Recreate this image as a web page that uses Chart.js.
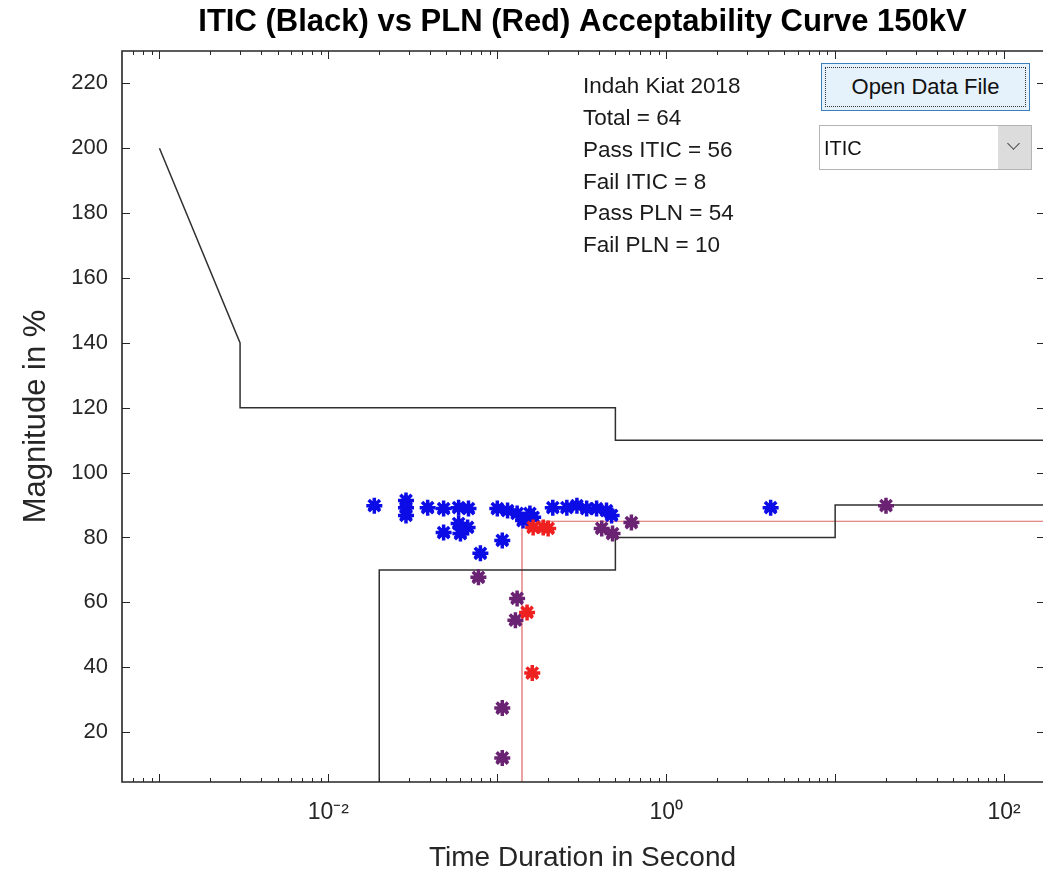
<!DOCTYPE html>
<html>
<head>
<meta charset="utf-8">
<script src="https://cdn.jsdelivr.net/npm/chart.js@4.4.1/dist/chart.umd.min.js"></script>
<style>
  html, body { margin: 0; padding: 0; background: #fff; }
  #wrap { position: relative; width: 1043px; height: 879px; overflow: hidden; }
  #chart { position: absolute; left: 0; top: 0; }
  .btn {
    position: absolute; left: 821px; top: 63px; width: 209px; height: 48px;
    box-sizing: border-box; border: 1px solid #3a80bd; background: #e5f1fb;
    font: 22px "Liberation Sans", Arial, sans-serif; color: #111;
    display: flex; align-items: center; justify-content: center;
  }
  .btn .focus { position: absolute; left: 3px; top: 3px; right: 3px; bottom: 3px; border: 1px dotted #333; }
  .sel {
    position: absolute; left: 819px; top: 125px; width: 213px; height: 45px;
    box-sizing: border-box; border: 1px solid #b4b4b4; background: #fff;
    font: 20px "Liberation Sans", Arial, sans-serif; color: #111;
  }
  .sel .txt { position: absolute; left: 4px; top: 11px; }
  .sel .arr { position: absolute; right: 0; top: 0; bottom: 0; width: 33px; background: #dcdcdc; }
  .sel .arr:after {
    content: ""; position: absolute; left: 11px; top: 13px; width: 8px; height: 8px;
    border-right: 1.5px solid #444; border-bottom: 1.5px solid #444; transform: rotate(45deg);
  }
</style>
</head>
<body>
<div id="wrap">
  <canvas id="chart" width="1043" height="879"></canvas>
  <div class="btn"><div class="focus"></div>Open Data File</div>
  <div class="sel"><span class="txt">ITIC</span><span class="arr"></span></div>
</div>
<script>
// ITIC curve (black): upper and lower envelopes
const iticUpperT = [0.001, 0.003, 0.003, 0.5, 0.5, 1000];
const iticUpperM = [200, 140, 120, 120, 110, 110];
const iticLowerT = [0.02, 0.02, 0.5, 0.5, 10, 10, 1000];
const iticLowerM = [0, 70, 70, 80, 80, 90, 90];

// PLN curve (red)
const plnT = [0.14, 0.14, 1000];
const plnM = [0, 85, 85];

// events: pass both (blue)
const blueT = [0.0187, 0.0288, 0.0288, 0.0288, 0.0387, 0.0481, 0.059, 0.0675, 0.059, 0.0667,
  0.0481, 0.0605, 0.1, 0.115, 0.131, 0.156, 0.163, 0.142, 0.107, 0.0794,
  0.213, 0.258, 0.296, 0.338, 0.387, 0.443, 0.475, 4.15];
const blueM = [89.8, 91.4, 89.2, 86.8, 89.2, 88.9, 89.2, 88.9, 84.3, 83.1,
  81.5, 81.2, 88.9, 88.3, 87.4, 87.4, 86.2, 85.2, 79.1, 75.1,
  89.2, 89.2, 89.8, 88.9, 88.9, 88.3, 86.8, 89.2];

// events: purple
const purpleT = [0.0773, 0.415, 0.481, 0.622, 0.131, 0.128, 0.107, 0.107, 20];
const purpleM = [67.7, 82.8, 81.2, 84.6, 61.2, 54.5, 27.4, 12.0, 89.8];

// events: red
const redT = [0.163, 0.187, 0.2, 0.15, 0.161];
const redM = [83.1, 83.1, 82.8, 56.9, 38.2];

const infoLines = ['Indah Kiat 2018', 'Total = 64', 'Pass ITIC = 56', 'Fail ITIC = 8', 'Pass PLN = 54', 'Fail PLN = 10'];

const xMin = 6.2e-4, xMax = 170;
const yMin = 4.6, yMax = 230;
const yTickVals = [20, 40, 60, 80, 100, 120, 140, 160, 180, 200, 220];
const xTickVals = [0.01, 1, 100];
const xTickText = { 0.01: '10\u207B\u00B2', 1: '10\u2070', 100: '10\u00B2' };

const FONT = '"Liberation Sans", Arial, sans-serif';
const AX = '#262626';

const pts = (t, m) => t.map((v, i) => ({ x: v, y: m[i] }));

const lineSet = (label, t, m, color, w) => ({
  type: 'line', label, data: pts(t, m), borderColor: color, borderWidth: w,
  pointRadius: 0, fill: false, tension: 0, order: 20
});
const starSet = (label, t, m, color, order) => ({
  type: 'scatter', label, data: pts(t, m), pointStyle: 'star', pointRadius: 8,
  borderWidth: 3.5, borderColor: color, backgroundColor: color, order
});
const triSet = (label, t, m, color, order) => ({
  type: 'scatter', label, data: pts(t, m), pointStyle: 'triangle', pointRadius: 7,
  borderWidth: 1, borderColor: color, backgroundColor: color, order
});

// box, inward ticks and info text like a MATLAB axes
// (right edge of the box is cropped off in the original figure)
const matlabAxes = {
  id: 'matlabAxes',
  afterDraw(chart) {
    const { ctx, chartArea: a, scales: { x, y } } = chart;
    ctx.save();
    ctx.strokeStyle = AX;
    ctx.lineWidth = 1;
    ctx.beginPath();
    for (const v of yTickVals) {
      const py = Math.round(y.getPixelForValue(v)) + 0.5;
      ctx.moveTo(a.left, py); ctx.lineTo(a.left + 8, py);
      ctx.moveTo(a.right, py); ctx.lineTo(a.right - 6, py);
    }
    for (let e = -4; e <= 2; e++) {
      for (let k = 1; k <= 9; k++) {
        const v = k * Math.pow(10, e);
        if (v < xMin || v > xMax) continue;
        const px = Math.round(x.getPixelForValue(v)) + 0.5;
        const len = k === 1 ? 8 : 4;
        ctx.moveTo(px, a.bottom); ctx.lineTo(px, a.bottom - len);
        ctx.moveTo(px, a.top); ctx.lineTo(px, a.top + len);
      }
    }
    ctx.stroke();
    ctx.lineWidth = 1.6;
    ctx.beginPath();
    ctx.moveTo(a.right, a.top);
    ctx.lineTo(a.left, a.top);
    ctx.lineTo(a.left, a.bottom);
    ctx.lineTo(a.right, a.bottom);
    ctx.stroke();

    ctx.fillStyle = '#1a1a1a';
    ctx.font = '22.5px ' + FONT;
    ctx.textBaseline = 'middle';
    ctx.textAlign = 'left';
    infoLines.forEach((s, i) => ctx.fillText(s, 583, 87 + i * 31.8));
    ctx.restore();
  }
};

new Chart(document.getElementById('chart'), {
  data: {
    datasets: [
      lineSet('ITIC upper', iticUpperT, iticUpperM, '#303030', 1.5),
      lineSet('ITIC lower', iticLowerT, iticLowerM, '#303030', 1.5),
      lineSet('PLN', plnT, plnM, '#e06464', 1.2),
      triSet('Pass', blueT, blueM, '#0c0ce6', 6),
      starSet('Pass', blueT, blueM, '#0c0ce6', 5),
      triSet('Purple', purpleT, purpleM, '#6a2272', 4),
      starSet('Purple', purpleT, purpleM, '#6a2272', 3),
      triSet('Red', redT, redM, '#ee2020', 2),
      starSet('Red', redT, redM, '#ee2020', 1)
    ]
  },
  options: {
    responsive: false,
    animation: false,
    devicePixelRatio: 1,
    layout: { autoPadding: false, padding: { left: 0, right: 0, top: 0, bottom: 0 } },
    plugins: {
      legend: { display: false },
      tooltip: { enabled: false },
      title: {
        display: true,
        fullSize: false,
        text: 'ITIC (Black) vs PLN (Red) Acceptability Curve 150kV',
        color: '#000',
        font: { family: FONT, size: 31, weight: 'bold', lineHeight: 1.2 },
        padding: { top: 4, bottom: 9.8 }
      }
    },
    scales: {
      x: {
        type: 'logarithmic', position: 'bottom', min: xMin, max: xMax,
        grid: { display: false, drawTicks: false },
        border: { display: false },
        afterBuildTicks: s => { s.ticks = xTickVals.map(v => ({ value: v })); },
        afterFit: s => { s.height = 97; s.paddingLeft = 0; s.paddingRight = 0; },
        ticks: {
          autoSkip: false, maxRotation: 0, padding: 17, color: AX,
          font: { family: FONT, size: 23 },
          callback: v => xTickText[v] || ''
        },
        title: {
          display: true, text: 'Time Duration in Second', color: AX,
          font: { family: FONT, size: 28, lineHeight: 1.2 },
          padding: { top: 0, bottom: 4 }
        }
      },
      y: {
        type: 'linear', min: yMin, max: yMax,
        grid: { display: false, drawTicks: false },
        border: { display: false },
        afterBuildTicks: s => { s.ticks = yTickVals.map(v => ({ value: v })); },
        afterFit: s => { s.width = 122; },
        ticks: { padding: 14, color: AX, font: { family: FONT, size: 22 } },
        title: {
          display: true, text: 'Magnitude in %', color: AX,
          font: { family: FONT, size: 31, lineHeight: 1.2 },
          padding: { top: 18, bottom: 0 }
        }
      }
    }
  },
  plugins: [matlabAxes]
});
</script>
</body>
</html>
